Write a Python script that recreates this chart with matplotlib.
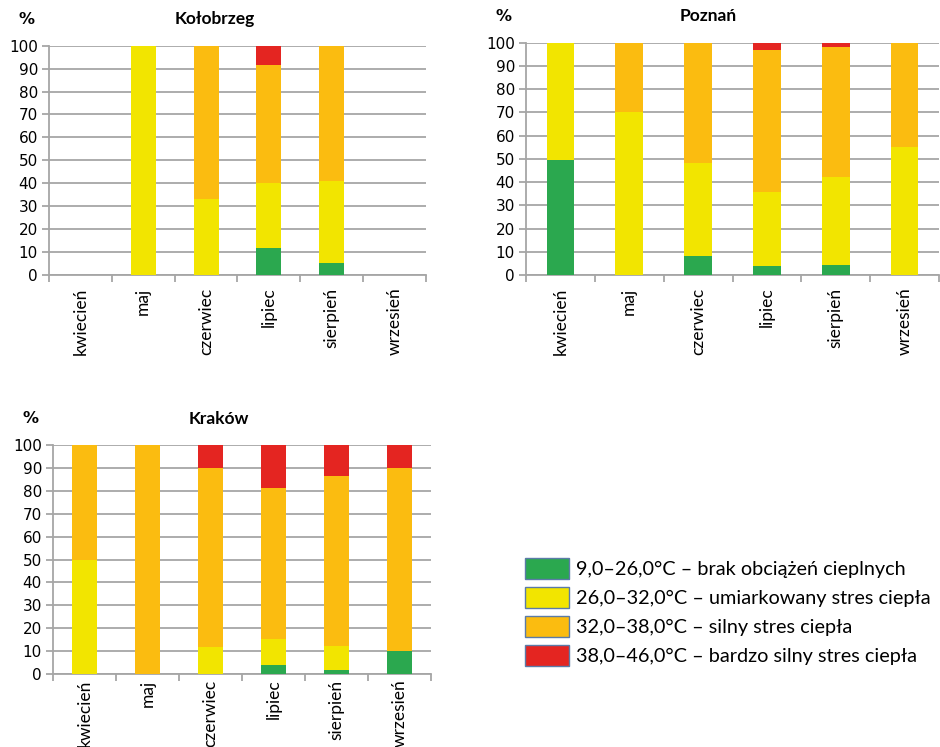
import matplotlib.pyplot as plt
from matplotlib.patches import Patch
import numpy as np

months = ['kwiecień', 'maj', 'czerwiec', 'lipiec', 'sierpień', 'wrzesień']
classes = ['9,0–26,0°C – brak obciążeń cieplnych',
           '26,0–32,0°C – umiarkowany stres ciepła',
           '32,0–38,0°C – silny stres ciepła',
           '38,0–46,0°C – bardzo silny stres ciepła']
colors = ['#2BA84F', '#F2E500', '#FBBC10', '#E42521']

# share of days (%) in each class, per month
kolobrzeg_green = [0, 0, 0, 11.7, 5.3, 0]
kolobrzeg_yellow = [0, 100, 33.3, 28.3, 35.7, 0]
kolobrzeg_orange = [0, 0, 66.7, 51.7, 59.0, 0]
kolobrzeg_red = [0, 0, 0, 8.3, 0, 0]

poznan_green = [49.5, 0, 8.2, 3.9, 4.3, 0]
poznan_yellow = [50.5, 70, 40.1, 31.8, 37.9, 55.2]
poznan_orange = [0, 30, 51.7, 61.2, 56.0, 44.8]
poznan_red = [0, 0, 0, 3.1, 1.8, 0]

krakow_green = [0, 0, 0, 3.8, 1.6, 10]
krakow_yellow = [50, 0, 11.8, 11.5, 10.6, 0]
krakow_orange = [50, 100, 78.2, 66.0, 74.3, 80]
krakow_red = [0, 0, 10, 18.7, 13.5, 10]

cities = [
    ('Kołobrzeg', [kolobrzeg_green, kolobrzeg_yellow, kolobrzeg_orange, kolobrzeg_red],
     [49/940, 1-275/747, 377/940, 229.3/747], 9),
    ('Poznań', [poznan_green, poznan_yellow, poznan_orange, poznan_red],
     [526/940, 1-275/747, 413/940, 232.3/747], 9),
    ('Kraków', [krakow_green, krakow_yellow, krakow_orange, krakow_red],
     [53/940, 1-674/747, 378/940, 229/747], 4),
]

grid_col = '#A6A6A6'
fig = plt.figure(figsize=(9.4, 7.47), dpi=100)

for name, series, pos, lab_pad in cities:
    ax = fig.add_axes(pos)
    x = np.arange(len(months))
    bottom = np.zeros(len(months))
    for vals, c in zip(series, colors):
        ax.bar(x, vals, 0.4, bottom=bottom, color=c, zorder=3)
        bottom += np.array(vals)
    ax.set_xlim(-0.5, len(months) - 0.5)
    ax.set_ylim(0, 100)
    ax.set_yticks(range(0, 101, 10))
    ax.yaxis.grid(True, color=grid_col, linewidth=1.3, zorder=0)
    ax.set_axisbelow(True)
    for s in ['top', 'right']:
        ax.spines[s].set_visible(False)
    for s in ['left', 'bottom']:
        ax.spines[s].set_color(grid_col)
        ax.spines[s].set_linewidth(1.3)
    ax.set_xticks(x)
    ax.set_xticklabels(months, rotation=90, va='top', ha='center',
                       fontfamily='Lato', fontsize=12.5)
    ax.set_xticks(np.arange(-0.5, len(months)), minor=True)
    ax.tick_params(axis='x', which='major', length=0, pad=lab_pad)
    ax.tick_params(axis='x', which='minor', length=5, width=1.3, color=grid_col)
    ax.tick_params(axis='y', length=5, width=1.3, color=grid_col, pad=3,
                   labelsize=11)
    for lab in ax.get_yticklabels():
        lab.set_fontfamily('DejaVu Sans')
    ax.annotate(name, xy=(0.44, 1), xycoords='axes fraction',
                xytext=(0, 19), textcoords='offset points',
                ha='center', va='center', fontsize=12.5, fontweight='bold',
                fontfamily='Lato')
    ax.annotate('%', xy=(0, 1), xycoords='axes fraction',
                xytext=(-16, 19), textcoords='offset points',
                ha='center', va='center', fontsize=11.5, fontweight='bold',
                fontfamily='DejaVu Sans')

handles = [Patch(facecolor=c, edgecolor='#5B7BA8', linewidth=1) for c in colors]
fig.legend(handles, classes, loc='upper left',
           bbox_to_anchor=(525/940, 1-558/747), frameon=False,
           borderaxespad=0, borderpad=0, handlelength=2.2, handleheight=1.25,
           labelspacing=0.4, handletextpad=0.35,
           prop={'family': 'Lato', 'size': 14.3})

fig.savefig('out.png', dpi=100)
